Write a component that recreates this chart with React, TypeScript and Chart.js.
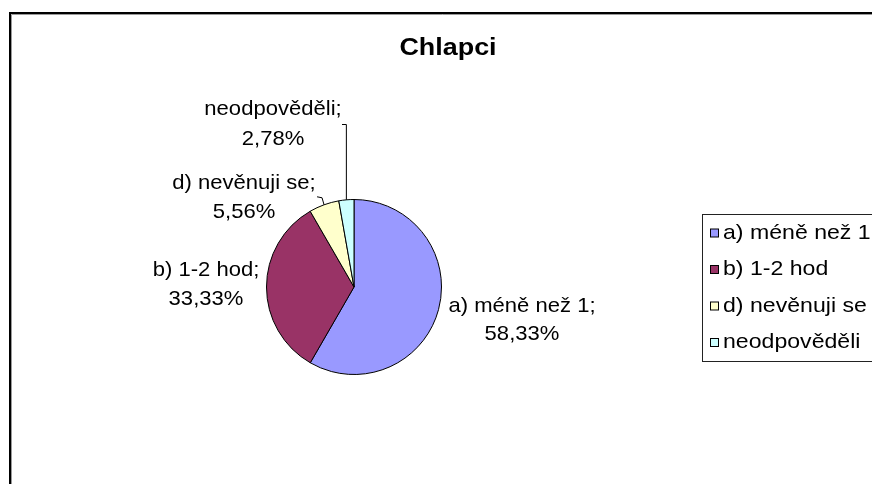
import React, { useEffect, useRef } from "react";
import { Chart, registerables } from "chart.js";

Chart.register(...registerables);

const chartTitle = "Chlapci";
const categories = ["a) méně než 1", "b) 1-2 hod", "d) nevěnuji se", "neodpověděli"];
const percentValues = [58.33, 33.33, 5.56, 2.78];
const sliceColors = ["#9999FF", "#993366", "#FFFFCC", "#CCFFFF"];

const FONT = '"Liberation Sans", Arial, sans-serif';

// label placement relative to the pie centre: dx, baseline of 2nd line
const labelLayout = [
  { dx: 168, dy2: 53, gap: 28 },
  { dx: -148, dy2: 18, gap: 29 },
  { dx: -110, dy2: -69, gap: 29 },
  { dx: -81, dy2: -142, gap: 30 },
];

function fmt(v: number) {
  return v.toFixed(2).replace(".", ",") + "%";
}

function drawText(ctx: CanvasRenderingContext2D, s: string, x: number, y: number, font: string, sx: number, align: CanvasTextAlign) {
  ctx.save();
  ctx.font = font;
  ctx.translate(x, y);
  ctx.scale(sx, 1);
  ctx.textAlign = align;
  ctx.textBaseline = "alphabetic";
  ctx.fillStyle = "#000";
  ctx.fillText(s, 0, 0);
  ctx.restore();
}

const decorPlugin = {
  id: "decor",
  beforeDraw(chart: any) {
    const ctx = chart.ctx as CanvasRenderingContext2D;
    ctx.save();
    ctx.fillStyle = "#fff";
    ctx.fillRect(0, 0, chart.width, chart.height);
    // outer frame
    ctx.strokeStyle = "#000";
    ctx.lineWidth = 2;
    ctx.strokeRect(10, 13, 1000, 1000);
    ctx.strokeStyle = "#9a9a9a";
    ctx.lineWidth = 1;
    ctx.beginPath();
    ctx.moveTo(11.5, 1000);
    ctx.lineTo(11.5, 14.5);
    ctx.lineTo(1000, 14.5);
    ctx.stroke();
    ctx.restore();
  },
  afterDraw(chart: any) {
    const ctx = chart.ctx as CanvasRenderingContext2D;
    const meta = chart.getDatasetMeta(0);
    const arcs = meta.data;
    const cx = arcs[0].x;
    const cy = arcs[0].y;

    // title
    drawText(ctx, chartTitle, 448, 55, `bold 23px ${FONT}`, 1.17, "center");

    // data labels
    categories.forEach((c, i) => {
      const L = labelLayout[i];
      const x = cx + L.dx;
      const y2 = cy + L.dy2;
      drawText(ctx, c + ";", x, y2 - L.gap, `21px ${FONT}`, 1.05, "center");
      drawText(ctx, fmt(percentValues[i]), x, y2, `21px ${FONT}`, 1.05, "center");
    });

    // leader lines
    const edge = (i: number) => {
      const a = arcs[i];
      const mid = (a.startAngle + a.endAngle) / 2;
      return { x: a.x + Math.cos(mid) * a.outerRadius, y: a.y + Math.sin(mid) * a.outerRadius };
    };
    ctx.save();
    ctx.strokeStyle = "#000";
    ctx.lineWidth = 1;
    const pn = edge(3);
    ctx.beginPath();
    ctx.moveTo(cx - 12, cy - 162.5);
    ctx.lineTo(pn.x, cy - 162.5);
    ctx.lineTo(pn.x, pn.y);
    ctx.stroke();
    const pd = edge(2);
    ctx.beginPath();
    ctx.moveTo(pd.x - 7, pd.y - 8);
    ctx.lineTo(pd.x - 2, pd.y - 7);
    ctx.lineTo(pd.x, pd.y);
    ctx.stroke();
    ctx.restore();

    // legend
    ctx.save();
    ctx.strokeStyle = "#222";
    ctx.lineWidth = 1;
    ctx.strokeRect(702.5, 214.5, 400, 147);
    categories.forEach((c, i) => {
      const base = 238.5 + i * 36.5;
      ctx.fillStyle = sliceColors[i];
      ctx.fillRect(710.5, base - 9.5, 8, 8);
      ctx.strokeStyle = "#000";
      ctx.strokeRect(710.5, base - 9.5, 8, 8);
      drawText(ctx, c, 723, base, `21px ${FONT}`, 1.1, "left");
    });
    ctx.restore();
  },
};

export default function App() {
  const ref = useRef<HTMLCanvasElement | null>(null);
  useEffect(() => {
    if (!ref.current) return;
    const chart = new Chart(ref.current, {
      type: "pie",
      data: {
        labels: categories,
        datasets: [
          {
            data: percentValues,
            backgroundColor: sliceColors,
            borderColor: "#000",
            borderWidth: 1,
          },
        ],
      },
      options: {
        responsive: false,
        animation: false,
        devicePixelRatio: 1,
        layout: { padding: { left: 266, right: 430, top: 199, bottom: 109 } },
        plugins: {
          legend: { display: false },
          tooltip: { enabled: false },
          title: { display: false },
        },
      },
      plugins: [decorPlugin],
    });
    return () => chart.destroy();
  }, []);
  return (
    <canvas
      ref={ref}
      width={872}
      height={484}
      style={{ position: "absolute", left: 0, top: 0, display: "block", width: 872, height: 484 }}
    />
  );
}
